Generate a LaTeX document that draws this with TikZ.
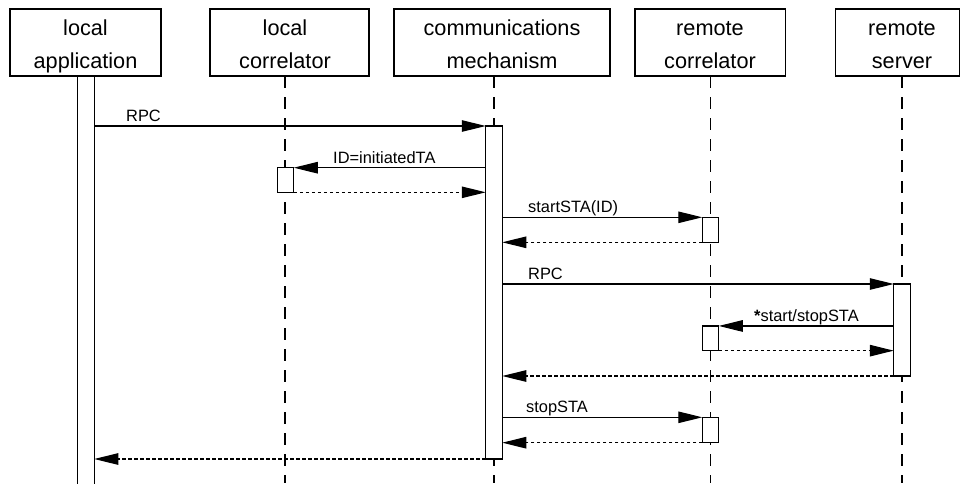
\documentclass[tikz,border=0pt]{standalone}
\usepackage{fontspec}
\setmainfont{Liberation Sans}
\usetikzlibrary{arrows.meta}
\begin{document}
\begin{tikzpicture}[x=1pt,y=-1pt,
  hdr/.style={draw, line width=1.2pt, minimum width=#1, minimum height=67pt, inner sep=0pt, outer sep=0pt},
  htext/.style={anchor=base, inner sep=0pt, font=\fontsize{21.7}{26}\selectfont},
  act/.style={draw, fill=white, line width=1.2pt, minimum width=16.5pt, minimum height=#1, inner sep=0pt, outer sep=0pt},
  life/.style={line width=1.2pt, dash pattern=on 12pt off 9pt},
  msg/.style={line width=1.1pt, -{Triangle[length=24pt,width=11.5pt]}},
  ret/.style={msg, dash pattern=on 3.5pt off 2.5pt},
  lbl/.style={anchor=base west, inner sep=0pt, font=\fontsize{16.4}{20}\selectfont}]
\clip (0,0) rectangle (961,483);
\useasboundingbox (0,0) rectangle (961,483);
% header boxes
\node[hdr=151pt] (h1) at (85.5,42.5) {};
\node[hdr=159pt] (h2) at (289.5,42.5) {};
\node[hdr=216pt] (h3) at (502,42.5) {};
\node[hdr=150.7pt] (h4) at (710.3,42.5) {};
\node[hdr=124.4pt] (h5) at (897.5,42.5) {};
% header texts
\node[htext] (t1a) at (85.5,35) {local};
\node[htext] (t1b) at (85.5,68) {application};
\node[htext] (t2a) at (285,35) {local};
\node[htext] (t2b) at (285,68) {correlator};
\node[htext] (t3a) at (502,35) {communications};
\node[htext] (t3b) at (502,68) {mechanism};
\node[htext] (t4a) at (710,35) {remote};
\node[htext] (t4b) at (710,68) {correlator};
\node[htext] (t5a) at (902,35) {remote};
\node[htext] (t5b) at (902,68) {server};
% lifeline ends
\coordinate (e2) at (285,483);
\coordinate (e3) at (494,483);
\coordinate (e4) at (710.5,483);
\coordinate (e5) at (902,483);
\draw[life] (h2.south -| e2) -- (e2);
\draw[life] (h3.south -| e3) -- (e3);
\draw[life] (h4.south -| e4) -- (e4);
\draw[life] (h5.south -| e5) -- (e5);
% activation boxes
\node[act=420pt] (a0) at (86,286) {};
\node[act=333pt] (a1) at (494,292.5) {};
\node[act=24.6pt] (a2) at (285.5,180) {};
\node[act=25pt] (a3) at (710.5,229.8) {};
\node[act=92pt] (a4) at (902,330) {};
\node[act=24.7pt] (a5) at (710.5,338.3) {};
\node[act=25.4pt] (a6) at (710.5,430) {};
% messages
\draw[msg] (a0.east |- a1.north) -- (a1.north west);
\draw[msg] (a1.west |- a2.north) -- (a2.north east);
\draw[ret] (a2.south east) -- (a1.west |- a2.south);
\draw[msg] (a1.east |- a3.north) -- (a3.north west);
\draw[ret] (a3.south west) -- (a1.east |- a3.south);
\draw[msg] (a1.east |- a4.north) -- (a4.north west);
\draw[msg] (a4.west |- a5.north) -- (a5.north east);
\draw[ret] (a5.south east) -- (a4.west |- a5.south);
\draw[ret] (a4.south west) -- (a1.east |- a4.south);
\draw[msg] (a1.east |- a6.north) -- (a6.north west);
\draw[ret] (a6.south west) -- (a1.east |- a6.south);
\draw[ret] (a1.south west) -- (a0.east |- a1.south);
% labels
\node[lbl] (l1) at (126,121) {RPC};
\node[lbl] (l2) at (333,163) {ID=initiatedTA};
\node[lbl] (l3) at (528,212) {startSTA(ID)};
\node[lbl] (l4) at (528,279) {RPC};
\node[lbl] (l5) at (754,321) {\textbf{*}start/stopSTA};
\node[lbl] (l6) at (526,412) {stopSTA};
\end{tikzpicture}
\end{document}
